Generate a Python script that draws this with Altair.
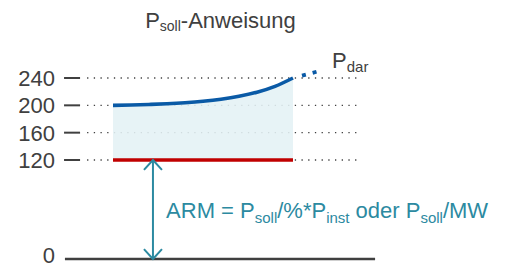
import altair as alt
import pandas as pd

# ---------------- data ----------------
tick_values = [0, 120, 160, 200, 240]
tick_labels = ["0", "120", "160", "200", "240"]
label_nudge = [-3, 1, 1, 1, 1]
grid_values = [120, 160, 200, 240]
curve_t = [0, 1, 2, 3, 4, 5, 6, 7, 8, 9, 10]
curve_p = [200, 200.5, 201.3, 202.3, 203.8, 205.9, 208.9, 213.2, 219.2, 227.8, 240]
ext_t = [10.5, 11.36]
ext_p = [243.5, 249.5]
p_min = 120
t_start, t_end = 0, 10
arrow_t = 2.22
arrow_from, arrow_to = 0, 120
zero_span = [-2.67, 14.56]
grid_span = [-1.44, 13.72]
tick_span = [-2.72, -1.83]
label_t = -3.22

title_parts = [("P", False), ("soll", True), ("-Anweisung", False)]
pdar_parts = [("P", False), ("dar", True)]
arm_parts = [("ARM = P", False), ("soll", True), ("/%*P", False), ("inst", True),
             (" oder P", False), ("soll", True), ("/MW", False)]

# ---------------- styles ----------------
FONT = "Liberation Sans"
GRAY = "#404040"
BLUE = "#0A5AA6"
RED = "#C00000"
FILL = "#E4F1F5"
TEAL = "#2C8AA1"

AW = {'A': 667, 'R': 722, 'M': 833, ' ': 278, '=': 584, 'P': 667, 's': 500, 'o': 556,
      'l': 222, '/': 278, '%': 889, '*': 389, 'i': 222, 'n': 556, 't': 278, 'd': 556,
      'e': 556, 'r': 333, 'W': 944, '-': 333, 'w': 722, 'u': 556, 'g': 556, 'a': 556}


def tw(s, size):
    return sum(AW.get(c, 556) for c in s) * size / 1000.0


xs = alt.Scale(domain=[0, 10], range=[33, 213], nice=False, zero=False)
ys = alt.Scale(domain=[0, 120, 240], range=[243, 144, 62], nice=False, zero=False)


def X(f="t:Q"):
    return alt.X(f, scale=xs, axis=None)


def Y(f="v:Q"):
    return alt.Y(f, scale=ys, axis=None)


def rich_text(parts, t, v, main, sub, shift, color, center=False):
    total = sum(tw(s, sub if is_sub else main) for s, is_sub in parts)
    off = -total / 2 if center else 0.0
    layers = []
    for s, is_sub in parts:
        size = sub if is_sub else main
        lead = len(s) - len(s.lstrip(" "))
        off += tw(" " * lead, size)
        body = s.strip(" ")
        df = pd.DataFrame({"t": [t], "v": [v], "s": [body]})
        layers.append(
            alt.Chart(df).mark_text(
                align="left", baseline="alphabetic", dx=off, dy=shift if is_sub else 0,
                fontSize=size, font=FONT, color=color
            ).encode(x=X(), y=Y(), text="s:N")
        )
        off += tw(s.lstrip(" "), size)
    return layers


# grid lines (dotted)
grid_df = pd.DataFrame({"v": grid_values, "t": grid_span[0], "t1": grid_span[1]})
grid = alt.Chart(grid_df).mark_rule(color=GRAY, strokeWidth=1.3, strokeDash=[1.3, 5.4]).encode(
    x=X(), x2="t1:Q", y=Y()
)

# tick dashes and labels
tick_df = pd.DataFrame({"v": grid_values, "t": tick_span[0], "t1": tick_span[1]})
ticks = alt.Chart(tick_df).mark_rule(color=GRAY, strokeWidth=2).encode(x=X(), x2="t1:Q", y=Y())
label_layers = []
for val, lab, nud in zip(tick_values, tick_labels, label_nudge):
    label_layers.append(
        alt.Chart(pd.DataFrame({"v": [val], "t": [label_t], "s": [lab]})).mark_text(
            align="right", baseline="middle", fontSize=22, font=FONT, color=GRAY, dy=nud
        ).encode(x=X(), y=Y(), text="s:N")
    )

curve_df = pd.DataFrame({"t": curve_t, "v": curve_p, "lo": p_min})
area = alt.Chart(curve_df).mark_area(color=FILL, opacity=0.88, interpolate="monotone").encode(
    x=X(), y=Y(), y2="lo:Q"
)
curve = alt.Chart(curve_df).mark_line(color=BLUE, strokeWidth=3.6, interpolate="monotone",
                                      strokeCap="butt").encode(x=X(), y=Y())

ext_df = pd.DataFrame({"t": ext_t, "v": ext_p})
ext = alt.Chart(ext_df).mark_line(color=BLUE, strokeWidth=3.8, strokeDash=[4, 7]).encode(x=X(), y=Y())

red_df = pd.DataFrame({"t": [t_start], "t1": [t_end], "v": [p_min]})
red = alt.Chart(red_df).mark_rule(color=RED, strokeWidth=3.5).encode(x=X(), x2="t1:Q", y=Y())

zero_df = pd.DataFrame({"t": [zero_span[0]], "t1": [zero_span[1]], "v": [0]})
zero = alt.Chart(zero_df).mark_rule(color=GRAY, strokeWidth=2.6).encode(x=X(), x2="t1:Q", y=Y())

arrow_df = pd.DataFrame({"t": [arrow_t], "v": [arrow_from], "v2": [arrow_to]})
arrow = alt.Chart(arrow_df).mark_rule(color=TEAL, strokeWidth=2).encode(x=X(), y=Y(), y2="v2:Q")
head_top = alt.Chart(pd.DataFrame({"t": [arrow_t], "v": [arrow_to]})).mark_point(
    shape="M-1,1.1L0,0L1,1.1", size=324, filled=False, stroke=TEAL, strokeWidth=2, opacity=1
).encode(x=X(), y=Y())
head_bot = alt.Chart(pd.DataFrame({"t": [arrow_t], "v": [arrow_from]})).mark_point(
    shape="M-1,-1.1L0,0L1,-1.1", size=324, filled=False, stroke=TEAL, strokeWidth=2, opacity=1
).encode(x=X(), y=Y())

texts = []
texts += rich_text(title_parts, 5.97, 313.2, 22, 14, 3, GRAY, center=True)
texts += rich_text(pdar_parts, 12.17, 254.2, 22, 15, 4, GRAY)
texts += rich_text(arm_parts, 2.95, 49.7, 22, 15, 5, TEAL)

chart = alt.layer(grid, ticks, *label_layers, area, red, curve, ext, zero, arrow, head_top,
                  head_bot, *texts).properties(
    width=440, height=244,
    autosize=alt.AutoSizeParams(type="none"),
    padding={"left": 72, "top": 8, "right": 0, "bottom": 10},
).configure(font=FONT).configure_view(stroke=None)

chart.save("out.html", embed_options={"renderer": "svg", "actions": False})
